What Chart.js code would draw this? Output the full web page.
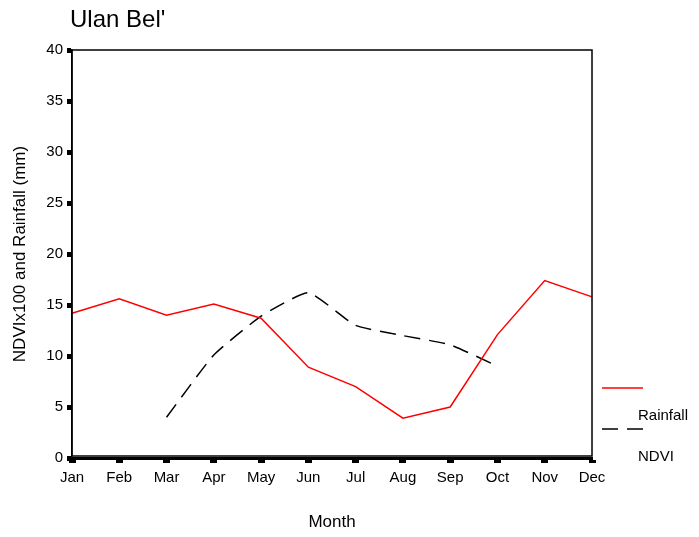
<!DOCTYPE html>
<html>
<head>
<meta charset="utf-8">
<title>Ulan Bel'</title>
<script src="https://cdn.jsdelivr.net/npm/chart.js@4/dist/chart.umd.min.js"></script>
<style>
  html, body { margin: 0; padding: 0; background: #fff; }
  #wrap { width: 699px; height: 537px; position: relative; }
</style>
</head>
<body>
<div id="wrap"><canvas id="ndviChart" width="699" height="537"></canvas></div>
<script>
// Monthly rainfall (mm) and NDVI x100 for Ulan Bel'
const months = ['Jan', 'Feb', 'Mar', 'Apr', 'May', 'Jun', 'Jul', 'Aug', 'Sep', 'Oct', 'Nov', 'Dec'];
const rainfall = [14.2, 15.6, 14.0, 15.1, 13.7, 8.9, 7.0, 3.9, 5.0, 12.1, 17.4, 15.8];
const ndvi = [null, null, 4.0, 10.1, 13.9, 16.2, 13.0, 12.0, 11.1, 9.0, null, null];
const yTicks = [0, 5, 10, 15, 20, 25, 30, 35, 40];

const FONT = 'Liberation Sans, Arial, sans-serif';

// Box around the plot area plus title and the stacked legend on the right
const framePlugin = {
  id: 'frame',
  afterDraw(chart) {
    const { ctx, chartArea: a } = chart;
    ctx.save();
    ctx.strokeStyle = '#000';
    ctx.lineWidth = 1.5;
    ctx.strokeRect(a.left, a.top, a.right - a.left, a.bottom - a.top - 2);

    ctx.fillStyle = '#000';
    ctx.font = '24px ' + FONT;
    ctx.textBaseline = 'middle';
    ctx.textAlign = 'left';
    ctx.fillText("Ulan Bel'", 70, 20);

    // legend: line sample above, label below
    let y = 388;
    chart.data.datasets.forEach(ds => {
      ctx.strokeStyle = ds.borderColor;
      ctx.lineWidth = 1.5;
      ctx.setLineDash(ds.borderDash || []);
      ctx.beginPath();
      ctx.moveTo(602, y);
      ctx.lineTo(643, y);
      ctx.stroke();
      ctx.setLineDash([]);
      ctx.fillStyle = '#000';
      ctx.font = '15px ' + FONT;
      ctx.fillText(ds.label, 638, y + 28);
      y += 41;
    });
    ctx.restore();
  }
};

const ctx = document.getElementById('ndviChart').getContext('2d');
new Chart(ctx, {
  type: 'line',
  data: {
    labels: months,
    datasets: [{
      label: 'Rainfall',
      data: rainfall,
      borderColor: '#ff0000',
      borderWidth: 1.5,
      pointRadius: 0,
      tension: 0,
      fill: false
    }, {
      label: 'NDVI',
      data: ndvi,
      borderColor: '#000000',
      borderWidth: 1.5,
      borderDash: [16, 9],
      pointRadius: 0,
      tension: 0.15,
      fill: false,
      spanGaps: false
    }]
  },
  options: {
    responsive: false,
    animation: false,
    layout: { padding: { top: 50, right: 107, left: 0, bottom: 0 } },
    plugins: {
      legend: { display: false },
      title: { display: false },
      tooltip: { enabled: false }
    },
    scales: {
      x: {
        offset: false,
        afterFit: s => { s.height = 79; },
        grid: {
          drawOnChartArea: false,
          drawTicks: true,
          tickLength: 5,
          tickWidth: 7,
          tickColor: '#000'
        },
        border: { display: true, color: '#000', width: 3 },
        ticks: {
          color: '#000',
          padding: 6,
          maxRotation: 0,
          autoSkip: false,
          font: { family: FONT, size: 15 }
        },
        title: {
          display: true,
          text: 'Month',
          color: '#000',
          padding: { top: 29 },
          font: { family: FONT, size: 17 }
        }
      },
      y: {
        min: 0,
        max: 40,
        afterFit: s => { s.width = 72; },
        afterBuildTicks: s => { s.ticks = yTicks.map(v => ({ value: v })); },
        grid: {
          drawOnChartArea: false,
          drawTicks: true,
          tickLength: 5,
          tickWidth: 5,
          tickColor: '#000'
        },
        border: { display: true, color: '#000', width: 1.5 },
        ticks: {
          color: '#000',
          padding: 4,
          font: { family: FONT, size: 15 }
        },
        title: {
          display: true,
          text: 'NDVIx100 and Rainfall (mm)',
          color: '#000',
          padding: { top: 10, bottom: 0 },
          font: { family: FONT, size: 17 }
        }
      }
    }
  },
  plugins: [framePlugin]
});
</script>
</body>
</html>
